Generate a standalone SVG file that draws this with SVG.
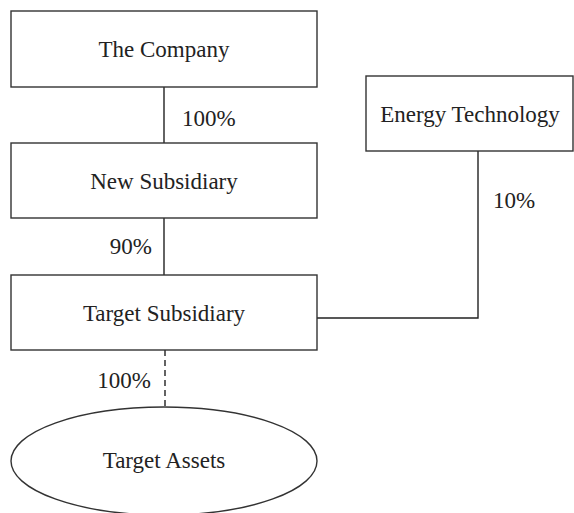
<svg xmlns="http://www.w3.org/2000/svg" width="574" height="513" viewBox="0 0 574 513">
<style>
.box{fill:#fff;stroke:#333;stroke-width:1.4}
.lbl{font-family:"Liberation Serif","Times New Roman",serif;font-size:23px;fill:#222}
.c{text-anchor:middle}
.e{text-anchor:end}
.ln{fill:none;stroke:#222;stroke-width:1.4}
.dash{stroke-dasharray:6 4}
</style>
<rect width="574" height="513" fill="#fff"/>
<g id="connectors">
<line class="ln" x1="164" y1="87" x2="164" y2="143"/>
<line class="ln" x1="164" y1="218" x2="164" y2="275"/>
<polyline class="ln" points="317,318 478,318 478,151"/>
<line class="ln dash" x1="165" y1="350" x2="165" y2="407"/>
<text class="lbl" x="182" y="126">100%</text>
<text class="lbl e" x="152" y="254">90%</text>
<text class="lbl" x="493" y="208">10%</text>
<text class="lbl e" x="151" y="388">100%</text>
</g>
<g id="the-company">
<rect class="box" x="11" y="11" width="306" height="76"/>
<text class="lbl c" x="164" y="57">The Company</text>
</g>
<g id="new-subsidiary">
<rect class="box" x="11" y="143" width="306" height="75"/>
<text class="lbl c" x="164" y="189">New Subsidiary</text>
</g>
<g id="energy-technology">
<rect class="box" x="366" y="76" width="207" height="75"/>
<text class="lbl c" x="470" y="122">Energy Technology</text>
</g>
<g id="target-subsidiary">
<rect class="box" x="11" y="275" width="306" height="75"/>
<text class="lbl c" x="164" y="321">Target Subsidiary</text>
</g>
<g id="target-assets">
<ellipse class="box" cx="164" cy="461" rx="153" ry="54"/>
<text class="lbl c" x="164" y="468">Target Assets</text>
</g>
</svg>
